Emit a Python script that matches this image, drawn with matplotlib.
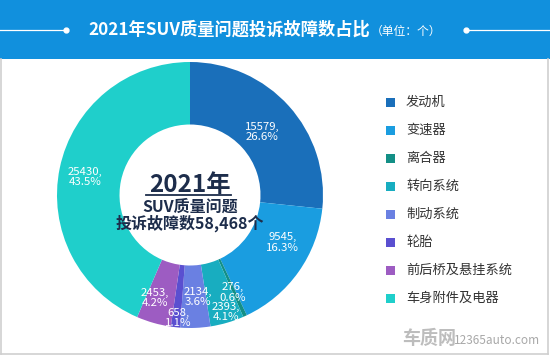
import matplotlib.pyplot as plt
from matplotlib.patches import Rectangle
from matplotlib.lines import Line2D
import numpy as np

plt.rcParams['font.family'] = ['Noto Sans CJK SC', 'DejaVu Sans']

categories = ['发动机', '变速器', '离合器', '转向系统', '制动系统', '轮胎',
              '前后桥及悬挂系统', '车身附件及电器']
counts = [15579, 9545, 276, 2393, 2134, 658, 2453, 25430]
percents = ['26.6%', '16.3%', '0.6%', '4.1%', '3.6%', '1.1%', '4.2%', '43.5%']
colors = ['#1a6fba', '#1a9de0', '#138f86', '#18adc0', '#6a80e2', '#5a4fd0',
          '#9d5cc2', '#1fcfcb']
title = '2021年SUV质量问题投诉故障数占比'
total_text = '投诉故障数58,468个'

# label placement tweaks (radius in pie units, angle shift in degrees)
label_r = [0.72, 0.78, 0.80, 0.92, 0.77, 0.93, 0.82, 0.80]
label_shift = [-1, 8, -1, 1, 2, 1, -3, 2]

W, H = 550, 356
fig = plt.figure(figsize=(W / 100, H / 100), dpi=100)
fig.patch.set_facecolor('white')


def fx(px):
    return px / W


def fy(py):
    return 1 - py / H


# header band
fig.patches.append(Rectangle((0, fy(59)), 1, 59 / H, transform=fig.transFigure,
                             facecolor='#1190dd', edgecolor='none', zorder=0))
fig.text(fx(88), fy(30), title, color='white', fontsize=12.4, fontweight='bold',
         ha='left', va='center')
fig.text(fx(371), fy(31), '（单位：个）', color='white', fontsize=8.5,
         ha='left', va='center')
for x0, x1, xd in [(0, 66, 66), (466, 550, 466)]:
    fig.lines.append(Line2D([fx(x0), fx(x1)], [fy(30), fy(30)], color='white',
                            lw=0.9, transform=fig.transFigure))
    fig.lines.append(Line2D([fx(xd)], [fy(30)], marker='o', ms=3.5, color='white',
                            transform=fig.transFigure))

# frame border
for xs, ys in [([1, 1], [59, 354]), ([548, 548], [59, 354]), ([1, 548], [354, 354])]:
    fig.lines.append(Line2D([fx(v) for v in xs], [fy(v) for v in ys],
                            color='#cfcfcf', lw=1.2, transform=fig.transFigure))

# donut
cx, cy, R = 190, 195, 133
ax = fig.add_axes([fx(cx - R), fy(cy + R), 2 * R / W, 2 * R / H])
wedges, _ = ax.pie(counts, colors=colors, startangle=90, counterclock=False,
                   radius=1.0, wedgeprops=dict(width=0.47, edgecolor='none'))
ax.set_xlim(-1, 1)
ax.set_ylim(-1, 1)
ax.axis('off')

for w, c, p, r, s in zip(wedges, counts, percents, label_r, label_shift):
    ang = np.deg2rad((w.theta1 + w.theta2) / 2 + s)
    ax.text(r * np.cos(ang), r * np.sin(ang), f'{c},\n{p}', color='white',
            fontsize=8.2, ha='center', va='center', linespacing=1.05)

navy = '#1d2d4b'
ax.text(0.0, 0.02, '2021年', color=navy, fontsize=17.5, fontweight='bold',
        ha='center', va='baseline')
ax.plot([-0.33, 0.31], [0.0, 0.0], color=navy, lw=1.3)
ax.text(0.0, -0.085, 'SUV质量问题', color=navy, fontsize=11.5, fontweight='bold',
        ha='center', va='center')
ax.text(0.0, -0.215, total_text, color=navy, fontsize=11.5, fontweight='bold',
        ha='center', va='center')

# legend
for i, (name, col) in enumerate(zip(categories, colors)):
    y = 102 + 28 * i
    fig.patches.append(Rectangle((fx(386), fy(y + 4.5)), 9 / W, 9 / H,
                                 transform=fig.transFigure, facecolor=col,
                                 edgecolor='none'))
    fig.text(fx(406), fy(y), name, color='#333333', fontsize=9.5,
             ha='left', va='center')

# watermark
fig.text(fx(402), fy(339), '车质网', color='#bdbdbd', fontsize=13,
         fontweight='bold', ha='left', va='center')
fig.text(fx(454), fy(340), '12365auto.com', color='#a8a8a8', fontsize=8.5,
         ha='left', va='center')

fig.savefig('out.png', dpi=100)
